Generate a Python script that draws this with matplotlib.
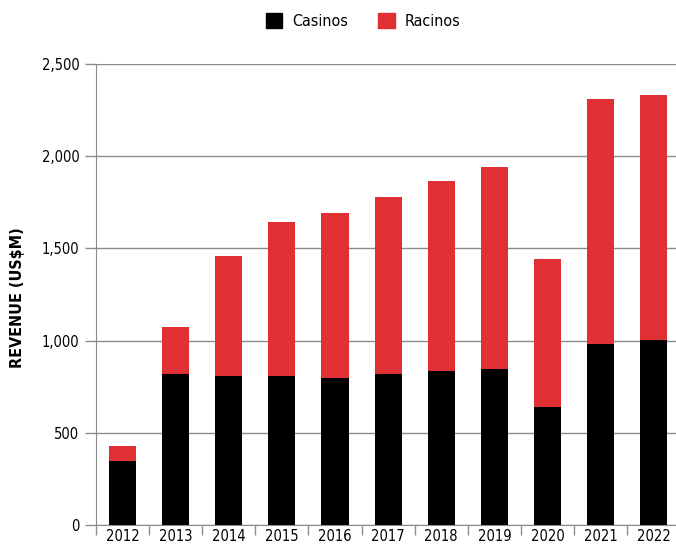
import numpy as np
import matplotlib.pyplot as plt
from matplotlib.patches import Patch

years = ["2012", "2013", "2014", "2015", "2016", "2017", "2018", "2019", "2020", "2021", "2022"]
casinos = [347, 819, 808, 808, 797, 819, 835, 846, 640, 982, 1003]
totals = [428, 1074, 1459, 1643, 1692, 1779, 1866, 1941, 1443, 2310, 2332]
racinos = [t - c for t, c in zip(totals, casinos)]

plt.rcParams['font.family'] = ['DejaVu Sans']
plt.rcParams['font.stretch'] = 'condensed'

black = "#000000"
red = "#e03034"
grid = "#8c8c8c"

fig = plt.figure(figsize=(6.76, 5.46), dpi=100)
ax = fig.add_axes([0.142, 0.0385, 0.858, 0.8445])

x = np.arange(len(years))
ax.bar(x, casinos, width=0.51, color=black, zorder=3)
ax.bar(x, racinos, width=0.51, bottom=casinos, color=red, zorder=3)

ax.set_xlim(-0.5, 10.42)
ax.set_ylim(0, 2500)
ax.set_yticks(range(0, 2501, 500))
ax.set_yticklabels(["0", "500", "1,000", "1,500", "2,000", "2,500"], fontsize=10.5)
ax.yaxis.grid(True, color=grid, linewidth=1, zorder=0)

ax.set_xticks(x)
ax.set_xticklabels(years, fontsize=10.5)
ax.set_xticks(np.arange(-0.5, 10.5, 1), minor=True)
ax.tick_params(axis='x', which='major', length=0, pad=3)
ax.tick_params(axis='x', which='minor', length=7, color=grid, width=1)
ax.tick_params(axis='y', length=8, color=grid, width=1, pad=4)

for s in ['top', 'right']:
    ax.spines[s].set_visible(False)
for s in ['left', 'bottom']:
    ax.spines[s].set_color(grid)

fig.text(18 / 676, 1 - 298 / 546, "REVENUE (US$M)", fontsize=11.5, fontweight='bold',
         rotation=90, ha='center', va='center')

handles = [Patch(color=black), Patch(color=red)]
fig.legend(handles, ["Casinos", "Racinos"], loc='center', bbox_to_anchor=(0.537, 1 - 21 / 546),
           ncol=2, frameon=False, fontsize=11.5, handlelength=1.05, handleheight=1.05,
           columnspacing=1.9, handletextpad=0.6, borderpad=0)

fig.savefig("out.png", dpi=100)
